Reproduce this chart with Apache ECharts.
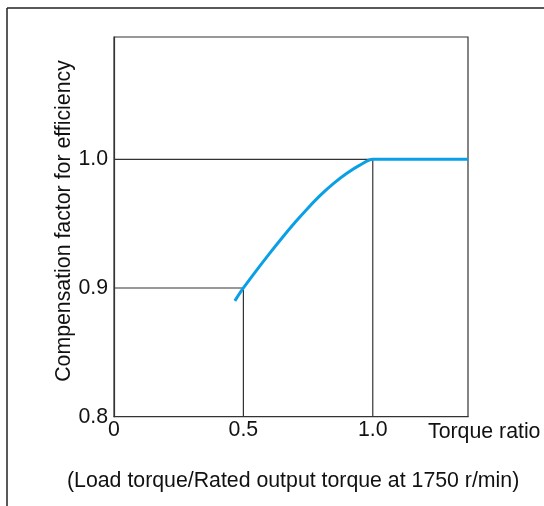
<!DOCTYPE html>
<html>
<head>
<meta charset="utf-8">
<script src="https://cdn.jsdelivr.net/npm/echarts@6/dist/echarts.min.js"></script>
<style>
  html, body { margin: 0; padding: 0; background: #fff; }
  #chart { width: 544px; height: 506px; }
</style>
</head>
<body>
<div id="chart"></div>
<script>
// ---- data ----
const curveX = [0.467, 0.5, 0.55, 0.6, 0.65, 0.7, 0.75, 0.8, 0.85, 0.9, 0.95, 1.0, 1.368];
const curveY = [0.890, 0.900, 0.9135, 0.9265, 0.939, 0.951, 0.9622, 0.9725, 0.9815, 0.9892, 0.9955, 1.000, 1.000];

const guide1X = [0, 1.0, 1.0];
const guide1Y = [1.0, 1.0, 0.8];
const guide2X = [0, 0.5, 0.5];
const guide2Y = [0.9, 0.9, 0.8];

const xTickValues = [0, 0.5, 1.0];
const xTickLabels = ['0', '0.5', '1.0'];
const yTickValues = [0.8, 0.9, 1.0];
const yTickLabels = ['0.8', '0.9', '1.0'];

const xAxisName = 'Torque ratio';
const yAxisName = 'Compensation factor for efficiency';
const subTitle = '(Load torque/Rated output torque at 1750 r/min)';

const FONT = '"Liberation Sans", Arial, Helvetica, sans-serif';
const FS = 21.3;

function zip(xs, ys) { return xs.map((x, i) => [x, ys[i]]); }
function labelFor(values, labels) {
  return function (v) {
    for (let i = 0; i < values.length; i++) {
      if (Math.abs(v - values[i]) < 1e-6) return labels[i];
    }
    return '';
  };
}

const chart = echarts.init(document.getElementById('chart'), null, { renderer: 'canvas' });
chart.setOption({
  animation: false,
  backgroundColor: '#fff',
  grid: {
    left: 114, top: 37, right: 76, bottom: 89.3,
    show: true, borderColor: '#333', borderWidth: 1.2, backgroundColor: 'transparent'
  },
  xAxis: {
    type: 'value', min: 0, max: 1.368, interval: 0.5,
    axisLine: { show: true, lineStyle: { color: '#333', width: 1.2 } },
    axisTick: { show: false },
    splitLine: { show: false },
    axisLabel: {
      color: '#111', fontFamily: FONT, fontSize: FS, margin: 3,
      formatter: labelFor(xTickValues, xTickLabels)
    }
  },
  yAxis: {
    type: 'value', min: 0.8, max: 1.095, interval: 0.1,
    axisLine: { show: true, lineStyle: { color: '#333', width: 1.2 } },
    axisTick: { show: false },
    splitLine: { show: false },
    axisLabel: {
      color: '#111', fontFamily: FONT, fontSize: FS, margin: 6,
      formatter: labelFor(yTickValues, yTickLabels)
    }
  },
  series: [
    {
      type: 'line', data: zip(guide1X, guide1Y), symbol: 'none', silent: true,
      lineStyle: { color: '#333', width: 1.2 }
    },
    {
      type: 'line', data: zip(guide2X, guide2Y), symbol: 'none', silent: true,
      lineStyle: { color: '#333', width: 1.2 }
    },
    {
      type: 'line', data: zip(curveX, curveY), symbol: 'none', smooth: 0.3,
      lineStyle: { color: '#0aa0e6', width: 3 }, z: 5
    }
  ],
  graphic: [
    { type: 'line', shape: { x1: 7, y1: 8, x2: 544, y2: 8 }, style: { stroke: '#222', lineWidth: 1.5 } },
    { type: 'line', shape: { x1: 7, y1: 8, x2: 7, y2: 506 }, style: { stroke: '#222', lineWidth: 1.5 } },
    {
      type: 'text', x: 428, y: 432,
      style: { text: xAxisName, fill: '#111', font: FS + 'px ' + FONT, textAlign: 'left', textVerticalAlign: 'middle' }
    },
    {
      type: 'text', x: 67, y: 481,
      style: { text: subTitle, fill: '#111', font: FS + 'px ' + FONT, textAlign: 'left', textVerticalAlign: 'middle' }
    },
    {
      type: 'text', x: 64, y: 221, rotation: Math.PI / 2,
      style: { text: yAxisName, fill: '#111', font: FS + 'px ' + FONT, textAlign: 'center', textVerticalAlign: 'middle' }
    }
  ]
});
</script>
</body>
</html>
